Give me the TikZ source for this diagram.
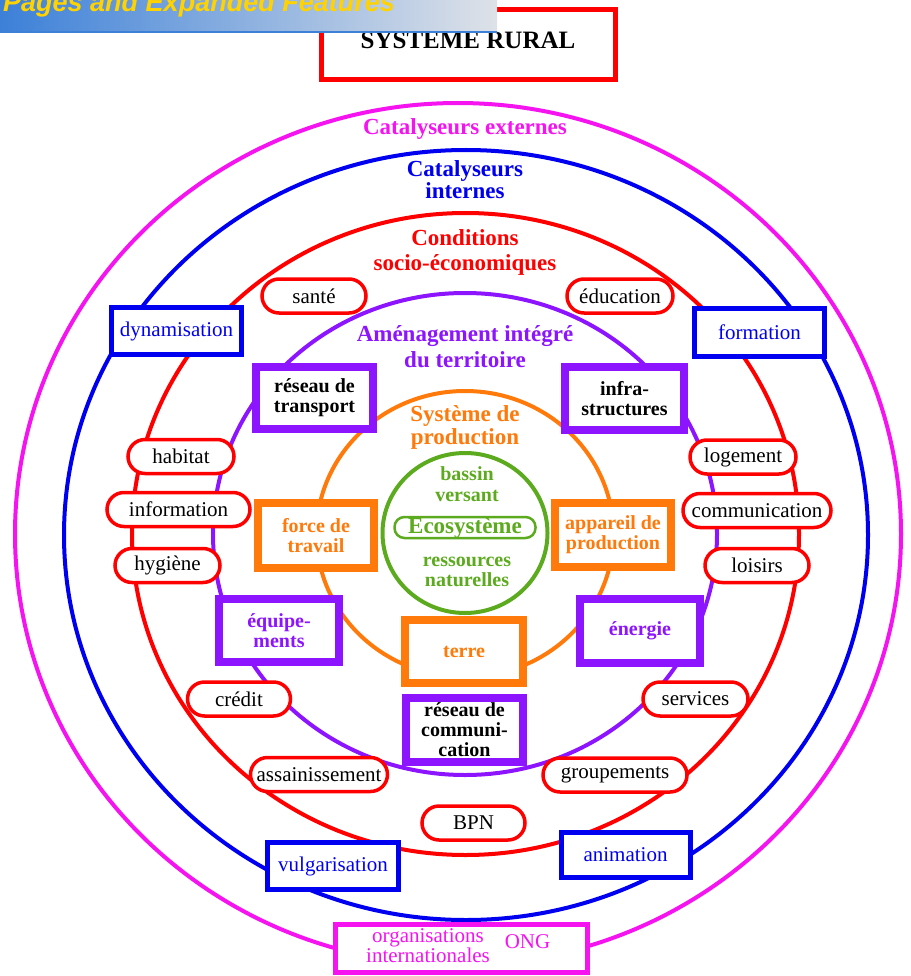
\documentclass[tikz,border=0pt]{standalone}
\usepackage{fontspec}
\setmainfont{Liberation Serif}
\newfontfamily\bannerfont{Liberation Sans}
\definecolor{Red}{HTML}{FF0000}
\definecolor{Blue}{HTML}{0000F0}
\definecolor{Magenta}{HTML}{F514F0}
\definecolor{Purple}{HTML}{8C14FF}
\definecolor{Orange}{HTML}{FF7A0A}
\definecolor{Green}{HTML}{5CAA1E}
\definecolor{BannerBlue}{HTML}{3C80D8}
\definecolor{BannerGrey}{HTML}{DEE2E8}
\definecolor{Gold}{HTML}{FFD200}
\usetikzlibrary{positioning}

\begin{document}
\begin{tikzpicture}
[x=1pt,y=-1pt,
 ringline/.style={line width=4pt},
 ringlabel/.style={font=\fontsize{23}{24}\selectfont\bfseries,align=center,inner sep=0pt},
 ecolabel/.style={font=\fontsize{20}{21}\selectfont\bfseries,align=center,inner sep=0pt,text=Green},
 pillbox/.style={draw=Red,fill=white,line width=3.5pt,rounded corners=17pt,
   minimum width=#1,minimum height=34pt,inner sep=0pt,font=\fontsize{21}{22}\selectfont},
 bluebox/.style={draw=Blue,fill=white,line width=5pt,text=Blue,minimum width=130pt,
   minimum height=47pt,inner sep=0pt,font=\fontsize{21}{22}\selectfont},
 purplebox/.style={draw=Purple,fill=white,line width=8pt,minimum width=118pt,
   minimum height=63pt,inner sep=0pt,align=center,font=\fontsize{20}{20}\selectfont\bfseries},
 orangebox/.style={purplebox,draw=Orange,text=Orange,minimum width=116pt,minimum height=64pt}]

\useasboundingbox (0,0) rectangle (910,976);

%% rings
\draw[ringline,Magenta] (458,534) ellipse [x radius=443,y radius=431];
\draw[ringline,Blue] (466,535) ellipse [x radius=402,y radius=385];
\draw[ringline,Red] (465.5,534) ellipse [x radius=333.5,y radius=321];
\draw[ringline,Purple] (465,534) ellipse [x radius=252,y radius=241];
\draw[ringline,Orange] (465,534) ellipse [x radius=148.5,y radius=143];
\draw[ringline,Green] (465,533) ellipse [x radius=82.5,y radius=80];

%% ring labels
\node[ringlabel,text=Magenta,anchor=base] (extcat) at (465,135) {Catalyseurs externes};
\node[ringlabel,text=Blue,anchor=north,font=\fontsize{23}{22}\selectfont\bfseries] (intcat) at (465,160) {Catalyseurs\\internes};
\node[ringlabel,text=Red,anchor=north,font=\fontsize{23}{25}\selectfont\bfseries] (socio) at (465,229) {Conditions\\socio-économiques};
\node[ringlabel,text=Purple,anchor=north,font=\fontsize{23}{26}\selectfont\bfseries] (amenag) at (465,325) {Aménagement intégré\\du territoire};
\node[ringlabel,text=Orange,anchor=north,font=\fontsize{23}{23}\selectfont\bfseries] (sysprod) at (465,405) {Système de\\production};

%% ecosystem
\node[ecolabel,anchor=north] (bassin) at (467,466) {bassin\\versant};
\node[draw=Green,line width=2.5pt,rounded corners=10pt,minimum width=141pt,minimum height=21pt,
  inner sep=0pt,text=Green,font=\fontsize{23}{24}\selectfont\bfseries] (eco) at (465,527.5) {Ecosystème};
\node[ecolabel,anchor=north,font=\fontsize{20}{20}\selectfont\bfseries] (ressources) at (467,557) {ressources\\naturelles};

%% socio-economic conditions
\node[pillbox=104pt] (sante) at (314,296) {santé};
\node[pillbox=106pt] (education) at (620,296) {éducation};
\node[pillbox=106pt] (habitat) at (181,456.5) {habitat};
\node[pillbox=143pt] (information) at (178.5,509.5) {information};
\node[pillbox=105pt] (hygiene) at (167.5,565.5) {hygiène};
\node[pillbox=106pt] (logement) at (743,457) {logement};
\node[pillbox=148pt] (communication) at (757,510.5) {communication};
\node[pillbox=104pt] (loisirs) at (757,565.5) {loisirs};
\node[pillbox=103pt] (credit) at (239,699) {crédit};
\node[pillbox=105pt] (services) at (695.5,699) {services};
\node[pillbox=137pt] (assainissement) at (319,774.5) {assainissement};
\node[pillbox=144pt] (groupements) at (615,775) {groupements};
\node[pillbox=103pt] (bpn) at (473.5,823) {BPN};

%% internal catalysts
\node[bluebox] (dynamisation) at (176.5,331) {dynamisation};
\node[bluebox,minimum height=48pt] (formation) at (759.5,332.5) {formation};
\node[bluebox,minimum width=131pt] (vulgarisation) at (333,866) {vulgarisation};
\node[bluebox,minimum width=129pt,minimum height=45pt] (animation) at (625.5,855) {animation};

%% territory planning
\node[purplebox,minimum width=117pt,minimum height=62pt] (transport) at (314.5,398) {réseau de\\transport};
\node[purplebox,minimum width=119pt] (infra) at (624.5,398.5) {infra-\\structures};
\node[purplebox,minimum width=120pt,text=Purple] (equipements) at (279,630.5) {équipe-\\ments};
\node[purplebox,minimum width=120pt,minimum height=64pt,text=Purple] (energie) at (640,631) {énergie};
\node[purplebox,minimum width=117pt,minimum height=64pt] (comm) at (464.5,730) {réseau de\\communi-\\cation};

%% production system
\node[orangebox,minimum height=65pt] (travail) at (316,535.5) {force de\\travail};
\node[orangebox] (appareil) at (613,535) {appareil de\\production};
\node[orangebox,minimum width=118pt,minimum height=63pt] (terre) at (464,651.5) {terre};

%% title
\node[draw=Red,line width=5pt,minimum width=294pt,minimum height=70pt,inner sep=0pt,
  text depth=10pt,font=\fontsize{25}{26}\selectfont\bfseries] (title) at (468,45) {SYSTEME RURAL};

%% external catalysts
\node[draw=Magenta,fill=white,line width=5pt,minimum width=252pt,minimum height=48pt] (ong) at (461,948) {};
\node[anchor=north,align=center,inner sep=0pt,text=Magenta,font=\fontsize{21}{19}\selectfont] (orgint) at (428,928) {organisations\\internationales};
\node[anchor=base,inner sep=0pt,text=Magenta,font=\fontsize{21}{22}\selectfont] (onglabel) at (527.5,948) {ONG};

%% banner
\begin{scope}
\clip (0,0) rectangle (497,33);
\shade[left color=BannerBlue,right color=BannerGrey] (0,0) rectangle (497,33);
\node[anchor=base west,inner sep=0pt,text=Gold,font=\bannerfont\bfseries\itshape\fontsize{27}{27}\selectfont] (banner) at (3,12) {Pages and Expanded Features};
\end{scope}
\draw[BannerBlue,line width=2pt] (0,32) -- (497,32);
\end{tikzpicture}
\end{document}
